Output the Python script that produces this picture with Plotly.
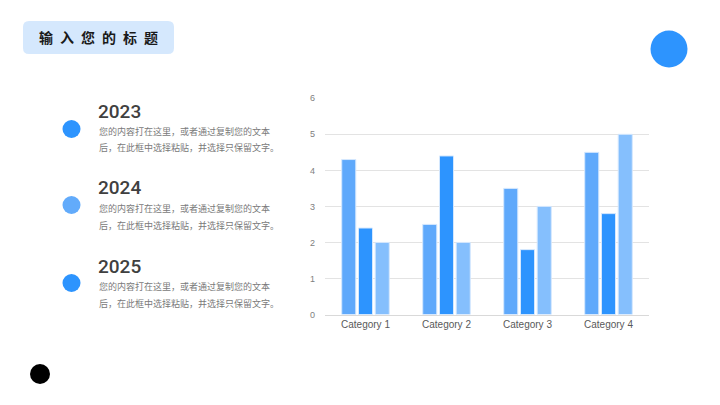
import plotly.graph_objects as go

W, H = 720, 405

categories = ["Category 1", "Category 2", "Category 3", "Category 4"]
series_names = ["Series 1", "Series 2", "Series 3"]
series1 = [4.3, 2.5, 3.5, 4.5]
series2 = [2.4, 4.4, 1.8, 2.8]
series3 = [2.0, 2.0, 3.0, 5.0]
series_colors = ["#5FA9FB", "#2D94FE", "#85BFFD"]

years = ["2023", "2024", "2025"]
year_dot_colors = ["#2D94FE", "#62ABFB", "#2D94FE"]
body_line1 = "您的内容打在这里，或者通过复制您的文本"
body_line2 = "后，在此框中选择粘贴，并选择只保留文字。"
title_chars = ["输", "入", "您", "的", "标", "题"]


def px(x):
    return x / W


def py(y):
    return 1 - y / H


fig = go.Figure()
for name, vals, col in zip(series_names, [series1, series2, series3], series_colors):
    fig.add_trace(go.Bar(
        x=categories, y=vals, name=name,
        marker=dict(color=col, line=dict(color="#D5E8FE", width=1)),
    ))

shapes = []
annotations = []

# title box (rounded)
x0, x1, y0, y1, r = 23, 174, 21, 54, 6
path = (f"M {px(x0 + r)} {py(y0)} L {px(x1 - r)} {py(y0)} "
        f"Q {px(x1)} {py(y0)} {px(x1)} {py(y0 + r)} L {px(x1)} {py(y1 - r)} "
        f"Q {px(x1)} {py(y1)} {px(x1 - r)} {py(y1)} L {px(x0 + r)} {py(y1)} "
        f"Q {px(x0)} {py(y1)} {px(x0)} {py(y1 - r)} L {px(x0)} {py(y0 + r)} "
        f"Q {px(x0)} {py(y0)} {px(x0 + r)} {py(y0)} Z")
shapes.append(dict(type="path", path=path, xref="paper", yref="paper",
                   fillcolor="#D5E8FD", line=dict(width=0), layer="below"))
title_text = "\u2002".join(title_chars)
annotations.append(dict(text="<b>" + title_text + "</b>", x=px(98.5), y=py(37.5),
                        xref="paper", yref="paper", showarrow=False,
                        xanchor="center", yanchor="middle",
                        font=dict(family="Noto Sans CJK SC", size=14, color="#1a1a1a")))


def circle(cx, cy, rad, color):
    return dict(type="circle", xref="paper", yref="paper",
                x0=px(cx - rad), x1=px(cx + rad), y0=py(cy + rad), y1=py(cy - rad),
                fillcolor=color, line=dict(width=0))


shapes.append(circle(669, 49, 18.5, "#2D94FE"))
shapes.append(circle(40, 374, 10, "#000000"))

dot_y = [129, 205, 283]
year_y = [111, 188, 266]
for i in range(3):
    shapes.append(circle(71.5, dot_y[i], 9, year_dot_colors[i]))
    annotations.append(dict(text=years[i], x=px(96), y=py(year_y[i]), xref="paper", yref="paper",
                            xanchor="left", yanchor="middle", showarrow=False,
                            font=dict(family="Roboto", size=19, color="#404040", weight=500)))
    annotations.append(dict(text=body_line1, x=px(97), y=py(year_y[i] + 20), xref="paper", yref="paper",
                            xanchor="left", yanchor="middle", showarrow=False,
                            font=dict(family="Noto Sans CJK SC", size=9, color="#7a7a7a")))
    annotations.append(dict(text=body_line2, x=px(97), y=py(year_y[i] + 37), xref="paper", yref="paper",
                            xanchor="left", yanchor="middle", showarrow=False,
                            font=dict(family="Noto Sans CJK SC", size=9, color="#7a7a7a")))

fig.update_layout(
    width=W, height=H,
    margin=dict(l=0, r=0, t=0, b=0, pad=0, autoexpand=False),
    paper_bgcolor="white", plot_bgcolor="white",
    showlegend=False,
    barmode="group", bargap=0.38, bargroupgap=0.16,
    shapes=shapes, annotations=annotations,
    xaxis=dict(domain=[px(325), px(649)], showgrid=False, showline=True, automargin=False,
               linecolor="#D9D9D9", linewidth=1, ticks="",
               tickfont=dict(family="Liberation Sans", size=10, color="#595959")),
    yaxis=dict(domain=[py(314.5), py(98.3)], range=[0, 6], dtick=1, automargin=False,
               showgrid=True, gridcolor="#E3E3E3", gridwidth=1, zeroline=False,
               ticks="", ticklabelstandoff=9,
               tickfont=dict(family="Liberation Sans", size=9, color="#808080")),
)

fig.write_html("out.html", config={"responsive": False, "displayModeBar": False},
               post_script="document.body.style.margin='0';document.body.style.overflow='hidden';")
